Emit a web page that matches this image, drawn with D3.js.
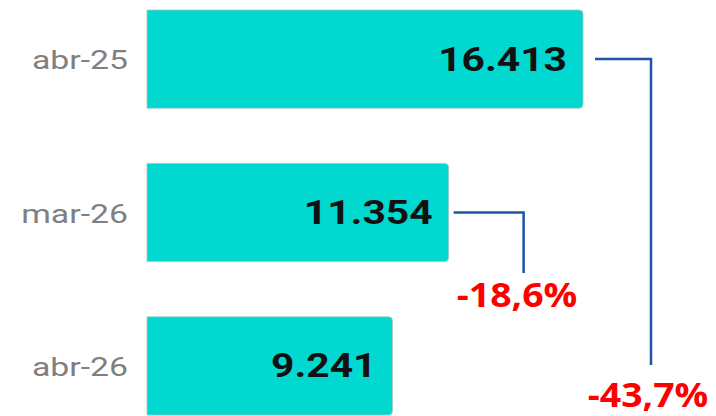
<!DOCTYPE html>
<html>
<head>
<meta charset="utf-8">
<script src="https://cdn.jsdelivr.net/npm/d3@7"></script>
<style>
  body { margin: 0; background: #fff; }
  svg { display: block; }
</style>
</head>
<body>
<div id="chart"></div>
<script>
var categories = ["abr-25", "mar-26", "abr-26"];
var values = [16413, 11354, 9241];
var valueLabels = ["16.413", "11.354", "9.241"];
// changes against the last bar
var changeFrom = [0, 1];
var changeLabels = ["-43,7%", "-18,6%"];

var width = 716, height = 416;

var svg = d3.select("#chart").append("svg")
    .attr("width", width)
    .attr("height", height);

// set the ranges
var x = d3.scaleLinear().domain([0, 16413]).range([147, 583]);
var y = d3.scaleBand().domain(categories).range([10, 415]).paddingInner(0.36);

// bars, square on the left, rounded on the right
function barPath(d, i) {
  var x0 = x(0), x1 = x(d), y0 = y(categories[i]), h = y.bandwidth(), r = 4;
  return "M" + x0 + "," + y0 +
    "H" + (x1 - r) + "Q" + x1 + "," + y0 + " " + x1 + "," + (y0 + r) +
    "V" + (y0 + h - r) + "Q" + x1 + "," + (y0 + h) + " " + (x1 - r) + "," + (y0 + h) +
    "H" + x0 + "Z";
}

svg.selectAll(".bar")
    .data(values)
  .enter().append("path")
    .attr("class", "bar")
    .attr("d", barPath)
    .attr("fill", "#00d8d0")
    .attr("stroke", "#a9c4c3")
    .attr("stroke-width", 0.8);

// category labels (the source text is drawn a bit wide)
svg.selectAll(".cat")
    .data(categories)
  .enter().append("text")
    .attr("transform", function(d) {
      return "translate(128," + (y(d) + y.bandwidth() / 2 + 10) + ") scale(1.3,1)";
    })
    .attr("text-anchor", "end")
    .style("font-family", "Roboto")
    .style("font-size", "26px")
    .style("fill", "#808080")
    .text(function(d) { return d; });

// value labels
svg.selectAll(".val")
    .data(values)
  .enter().append("text")
    .attr("transform", function(d, i) {
      return "translate(" + (x(d) - 16) + "," + (y(categories[i]) + y.bandwidth() / 2 + 11.5) + ") scale(1.2,1)";
    })
    .attr("text-anchor", "end")
    .style("font-family", "Roboto")
    .style("font-weight", "bold")
    .style("font-size", "34px")
    .style("fill", "#111")
    .text(function(d, i) { return valueLabels[i]; });

// connector lines
var gaps = [12, 5], reach = [56, 70], drop = [365, 273];
var labelX = [648, 517], labelY = [407, 307];

changeFrom.forEach(function(k, j) {
  var cy = y(categories[k]) + y.bandwidth() / 2;
  var xa = x(values[k]) + gaps[j];
  svg.append("path")
      .attr("d", "M" + xa + "," + cy + "H" + (xa + reach[j]) + "V" + drop[j])
      .attr("fill", "none")
      .attr("stroke", "#1f55a6")
      .attr("stroke-width", 2.5);
  svg.append("text")
      .attr("transform", "translate(" + labelX[j] + "," + labelY[j] + ") scale(1.1,1)")
      .attr("text-anchor", "middle")
      .style("font-family", "Open Sans")
      .style("font-weight", "bold")
      .style("font-size", "34px")
      .style("fill", "#ff0000")
      .text(changeLabels[j]);
});
</script>
</body>
</html>
